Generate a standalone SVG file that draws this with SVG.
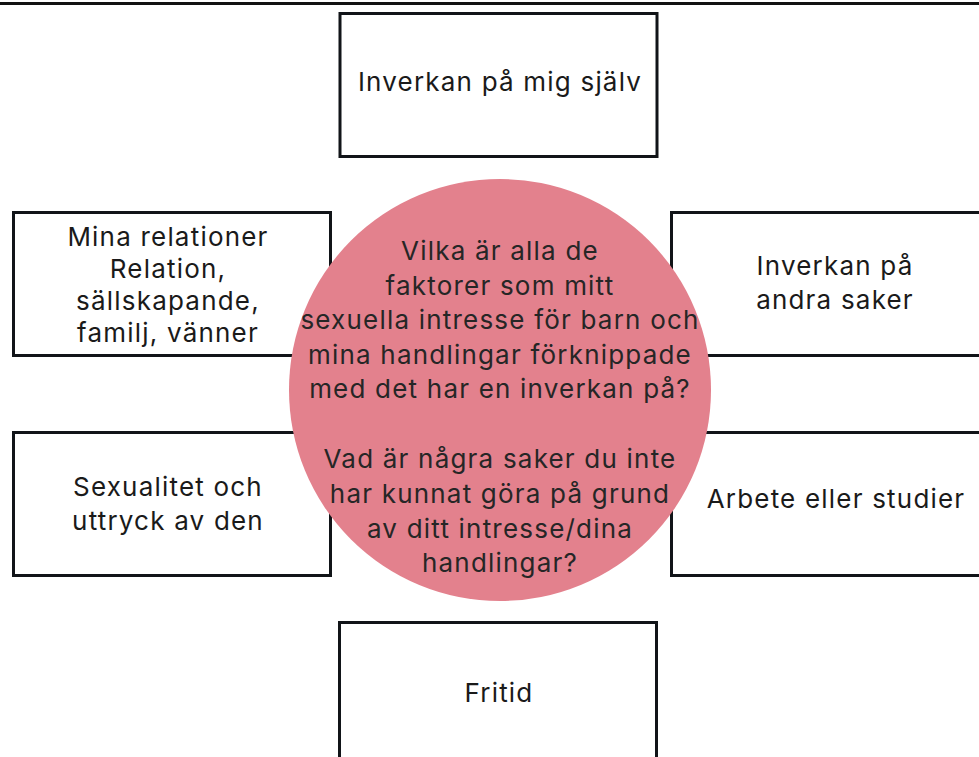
<svg xmlns="http://www.w3.org/2000/svg" width="979" height="757" viewBox="0 0 979 757">
  <style>
    .box { fill: #ffffff; stroke: #111418; stroke-width: 3; }
    .lbl { font-family: Inter, "Noto Sans", "Liberation Sans", sans-serif; font-size: 26px; letter-spacing: 1.2px; fill: #1a1a1a; text-anchor: middle; }
    .ctr { font-family: Inter, "Noto Sans", "Liberation Sans", sans-serif; font-size: 26px; letter-spacing: 1.2px; fill: #262626; text-anchor: middle; }
  </style>
  <rect x="0" y="0" width="979" height="757" fill="#ffffff"/>
  <line x1="0" y1="3.5" x2="979" y2="3.5" stroke="#111111" stroke-width="3"/>
  <g id="connectors"></g>
  <g id="node-self">
    <rect class="box" x="340" y="13.5" width="317" height="143"/>
    <text class="lbl" x="500" y="91">Inverkan på mig själv</text>
  </g>
  <g id="node-relations">
    <rect class="box" x="13.5" y="212.5" width="317" height="143"/>
    <text class="lbl" x="168" y="246">Mina relationer</text>
    <text class="lbl" x="168" y="278">Relation,</text>
    <text class="lbl" x="168" y="310">sällskapande,</text>
    <text class="lbl" x="168" y="342">familj, vänner</text>
  </g>
  <g id="node-other">
    <rect class="box" x="671.5" y="212.5" width="330" height="143"/>
    <text class="lbl" x="835" y="275">Inverkan på</text>
    <text class="lbl" x="835" y="309">andra saker</text>
  </g>
  <g id="node-sexuality">
    <rect class="box" x="13.5" y="432.5" width="317" height="143"/>
    <text class="lbl" x="168" y="496">Sexualitet och</text>
    <text class="lbl" x="168" y="530">uttryck av den</text>
  </g>
  <g id="node-work">
    <rect class="box" x="671.5" y="432.5" width="330" height="143"/>
    <text class="lbl" x="836" y="508">Arbete eller studier</text>
  </g>
  <g id="node-leisure">
    <rect class="box" x="339.5" y="622.5" width="317" height="160"/>
    <text class="lbl" x="499" y="702">Fritid</text>
  </g>
  <g id="node-center">
    <circle cx="500" cy="390" r="211" fill="#e3818d"/>
    <text class="ctr" x="500" y="260">Vilka är alla de</text>
    <text class="ctr" x="500" y="294.5">faktorer som mitt</text>
    <text class="ctr" x="500" y="329">sexuella intresse för barn och</text>
    <text class="ctr" x="500" y="363.5">mina handlingar förknippade</text>
    <text class="ctr" x="500" y="398">med det har en inverkan på?</text>
    <text class="ctr" x="500" y="468">Vad är några saker du inte</text>
    <text class="ctr" x="500" y="503">har kunnat göra på grund</text>
    <text class="ctr" x="500" y="538">av ditt intresse/dina</text>
    <text class="ctr" x="500" y="572">handlingar?</text>
  </g>
</svg>
